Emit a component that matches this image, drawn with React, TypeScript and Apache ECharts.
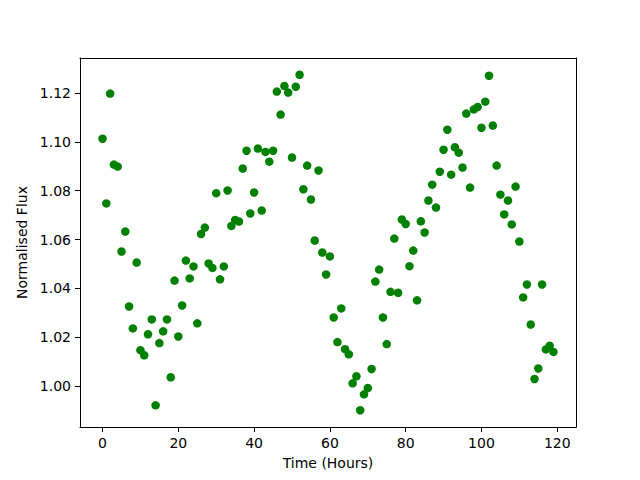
import React, { useEffect, useRef } from "react";
import * as echarts from "echarts";

const hours: number[] = Array.from({ length: 120 }, (_, i) => i);

const flux: number[] = [
  1.1013, 1.0748, 1.1198, 1.0907, 1.0899, 1.0551, 1.0633, 1.0326, 1.0236, 1.0506,
  1.0147, 1.0126, 1.0212, 1.0273, 0.9921, 1.0176, 1.0224, 1.0273, 1.0036, 1.0432,
  1.0203, 1.0330, 1.0514, 1.0441, 1.0490, 1.0257, 1.0623, 1.0649, 1.0502, 1.0484,
  1.0790, 1.0437, 1.0490, 1.0801, 1.0656, 1.0680, 1.0674, 1.0891, 1.0964, 1.0707,
  1.0793, 1.0973, 1.0719, 1.0959, 1.0919, 1.0964, 1.1206, 1.1112, 1.1229, 1.1202,
  1.0936, 1.1226, 1.1275, 1.0806, 1.0903, 1.0764, 1.0596, 1.0883, 1.0547, 1.0457,
  1.0531, 1.0281, 1.0180, 1.0318, 1.0151, 1.0130, 1.0011, 1.0040, 0.9901, 0.9966,
  0.9992, 1.0070, 1.0428, 1.0477, 1.0281, 1.0172, 1.0386, 1.0604, 1.0382, 1.0682,
  1.0664, 1.0491, 1.0555, 1.0351, 1.0675, 1.0629, 1.0760, 1.0825, 1.0731, 1.0878,
  1.0968, 1.1050, 1.0866, 1.0978, 1.0956, 1.0895, 1.1116, 1.0813, 1.1133, 1.1143,
  1.1058, 1.1165, 1.1271, 1.1067, 1.0903, 1.0784, 1.0703, 1.0760, 1.0662, 1.0817,
  1.0592, 1.0363, 1.0416, 1.0252, 1.0029, 1.0072, 1.0416, 1.0150, 1.0165, 1.0140,
];

const xTicks: number[] = [0, 20, 40, 60, 80, 100, 120];
const yTicks: number[] = [1.0, 1.02, 1.04, 1.06, 1.08, 1.1, 1.12];

const FONT = "DejaVu Sans";

export default function App() {
  const ref = useRef<HTMLDivElement>(null);
  useEffect(() => {
    if (!ref.current) return;
    const chart = echarts.init(ref.current, null, { renderer: "svg" });
    const xmin = Math.min(...hours), xmax = Math.max(...hours);
    const ymin = Math.min(...flux), ymax = Math.max(...flux);
    const xm = (xmax - xmin) * 0.05, ym = (ymax - ymin) * 0.05;
    const lineStyle = { color: "#000", width: 1 };
    chart.setOption({
      animation: false,
      backgroundColor: "#fff",
      grid: { left: 80, right: 64, top: 58, bottom: 53, containLabel: false },
      xAxis: [
        {
          type: "value",
          min: xmin - xm,
          max: xmax + xm,
          splitLine: { show: false },
          axisLine: { show: true, onZero: false, lineStyle },
          axisTick: { show: true, length: 5, lineStyle, customValues: xTicks },
          axisLabel: {
            customValues: xTicks,
            color: "#000",
            fontFamily: FONT,
            fontSize: 14,
            margin: 9,
            showMinLabel: true,
            showMaxLabel: true,
          },
          name: "Time (Hours)",
          nameLocation: "middle",
          nameGap: 29,
          nameTextStyle: { color: "#000", fontFamily: FONT, fontSize: 14 },
        },
        {
          type: "value",
          position: "top",
          min: xmin - xm,
          max: xmax + xm,
          splitLine: { show: false },
          axisLine: { show: true, onZero: false, lineStyle },
          axisTick: { show: false },
          axisLabel: { show: false },
        },
      ],
      yAxis: [
        {
          type: "value",
          min: ymin - ym,
          max: ymax + ym,
          splitLine: { show: false },
          axisLine: { show: true, onZero: false, lineStyle },
          axisTick: { show: true, length: 5, lineStyle, customValues: yTicks },
          axisLabel: {
            customValues: yTicks,
            color: "#000",
            fontFamily: FONT,
            fontSize: 14,
            margin: 9,
            formatter: (v: number) => v.toFixed(2),
          },
          name: "Normalised Flux",
          nameLocation: "middle",
          nameGap: 44,
          nameTextStyle: { color: "#000", fontFamily: FONT, fontSize: 14 },
        },
        {
          type: "value",
          position: "right",
          min: ymin - ym,
          max: ymax + ym,
          splitLine: { show: false },
          axisLine: { show: true, onZero: false, lineStyle },
          axisTick: { show: false },
          axisLabel: { show: false },
        },
      ],
      series: [
        {
          type: "scatter",
          xAxisIndex: 0,
          yAxisIndex: 0,
          data: hours.map((h, i) => [h, flux[i]]),
          symbol: "circle",
          symbolSize: 8.5,
          itemStyle: { color: "#008000", opacity: 1 },
        },
      ],
    });
    return () => chart.dispose();
  }, []);
  return (
    <div
      ref={ref}
      style={{ position: "fixed", left: 0, top: 0, width: 640, height: 480, background: "#fff" }}
    />
  );
}
